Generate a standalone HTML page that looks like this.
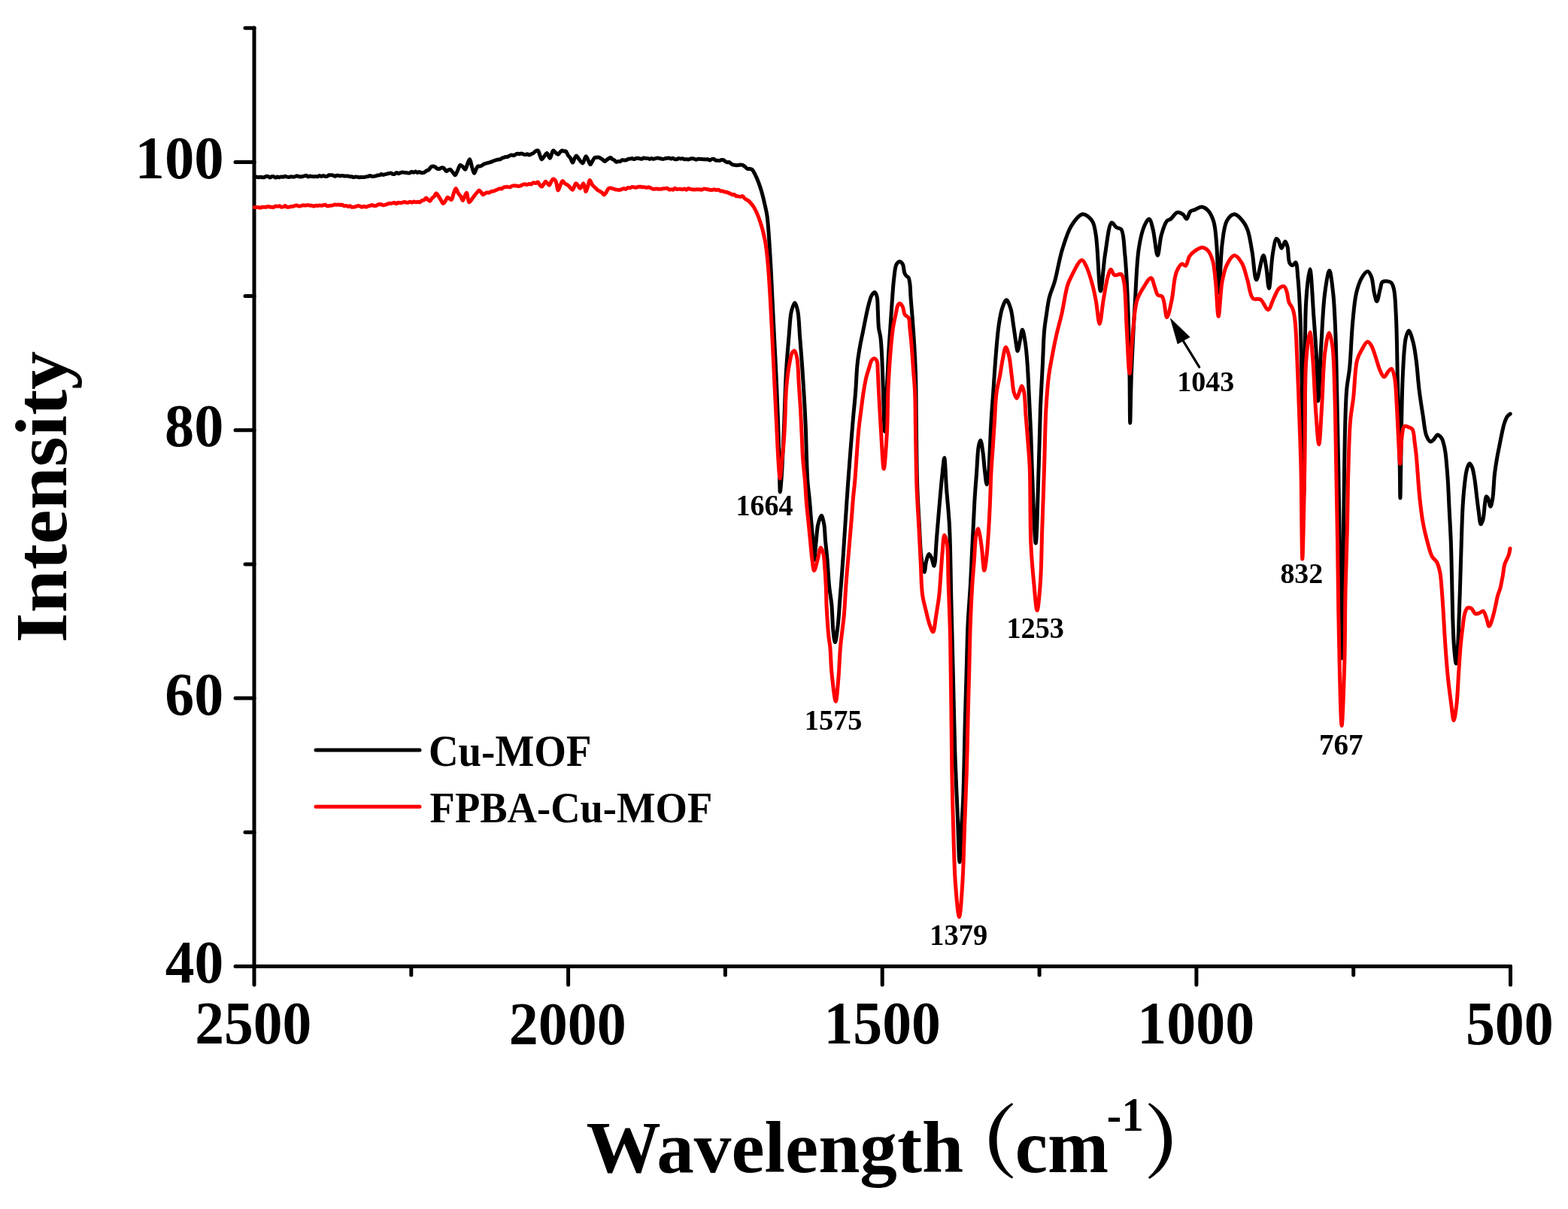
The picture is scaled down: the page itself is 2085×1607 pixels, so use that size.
<!DOCTYPE html><html><head><meta charset="utf-8"><title>FTIR spectra</title><style>html,body{margin:0;padding:0;background:#fff;overflow:hidden;}svg{display:block;}text{font-family:"Liberation Serif","Times New Roman",serif;font-weight:bold;fill:#000;}text.cjk{font-family:"Noto Serif CJK SC","Liberation Serif",serif;}</style></head><body>
<svg width="2085" height="1607" viewBox="0 0 2085 1607">
<rect width="2085" height="1607" fill="#fff"/>
<g stroke="#000" stroke-width="5" fill="none" stroke-linecap="round">
<path d="M338,37 V1284.5 H2008.5"/>
<path d="M313,215.4 H338"/>
<path d="M313,571.7 H338"/>
<path d="M313,928.1 H338"/>
<path d="M313,1284.5 H338"/>
<path d="M326,37.2 H338"/>
<path d="M326,393.6 H338"/>
<path d="M326,749.9 H338"/>
<path d="M326,1106.3 H338"/>
<path d="M338.0,1284.5 V1309.0"/>
<path d="M755.6,1284.5 V1309.0"/>
<path d="M1173.2,1284.5 V1309.0"/>
<path d="M1590.9,1284.5 V1309.0"/>
<path d="M2008.5,1284.5 V1309.0"/>
<path d="M546.8,1284.5 V1296.0"/>
<path d="M964.4,1284.5 V1296.0"/>
<path d="M1382.1,1284.5 V1296.0"/>
<path d="M1799.7,1284.5 V1296.0"/>
</g>
<path fill="none" stroke="#000" stroke-width="5.0" stroke-linejoin="round" stroke-linecap="round" d="M338.4,235.7 C338.4,235.7 340.1,235.1 341.0,235.1 C341.8,235.1 342.7,235.7 343.5,235.7 C344.4,235.7 345.2,235.3 346.1,235.3 C346.9,235.3 347.8,235.6 348.6,235.7 C349.5,235.8 350.3,235.9 351.2,235.7 C352.0,235.5 352.8,234.7 353.7,234.5 C354.5,234.3 355.4,234.2 356.3,234.4 C357.2,234.6 358.0,235.9 358.8,236.0 C359.7,236.0 360.5,235.0 361.4,234.7 C362.2,234.5 363.1,234.4 363.9,234.6 C364.8,234.9 365.6,236.1 366.5,236.1 C367.3,236.2 368.2,235.1 369.0,235.0 C369.9,235.0 370.7,235.7 371.6,235.7 C372.4,235.7 373.3,235.0 374.1,234.9 C375.0,234.8 375.8,235.3 376.7,235.2 C377.5,235.1 378.4,234.2 379.2,234.2 C380.1,234.2 380.9,234.9 381.8,235.1 C382.6,235.3 383.5,235.5 384.3,235.5 C385.2,235.4 386.0,234.8 386.9,234.8 C387.7,234.7 388.6,235.1 389.4,235.1 C390.3,235.2 391.2,235.2 392.0,234.9 C392.9,234.7 393.7,233.7 394.5,233.7 C395.4,233.6 396.2,234.3 397.1,234.5 C397.9,234.7 398.8,234.9 399.6,235.0 C400.5,235.0 401.3,234.7 402.1,234.6 C403.0,234.4 403.8,234.1 404.7,233.9 C405.5,233.7 406.4,233.2 407.2,233.3 C408.1,233.5 408.8,234.8 409.7,234.9 C410.5,235.0 411.4,234.2 412.2,234.1 C413.1,234.0 413.9,234.4 414.7,234.5 C415.6,234.6 416.4,234.8 417.3,234.8 C418.1,234.8 418.9,234.4 419.8,234.4 C420.6,234.4 421.5,234.9 422.3,234.7 C423.2,234.6 424.0,233.7 424.8,233.6 C425.7,233.6 426.5,234.4 427.3,234.4 C428.2,234.4 429.0,233.6 429.9,233.6 C430.7,233.6 431.5,234.4 432.4,234.5 C433.2,234.6 434.1,234.6 434.9,234.4 C435.8,234.1 436.5,233.0 437.4,232.7 C438.2,232.5 439.1,232.7 439.9,232.8 C440.8,232.8 441.6,232.6 442.5,232.9 C443.3,233.1 444.1,234.2 445.0,234.3 C445.8,234.4 446.6,233.5 447.5,233.3 C448.3,233.2 449.2,233.2 450.0,233.3 C450.9,233.4 451.7,233.9 452.5,233.9 C453.4,233.9 454.2,233.4 455.1,233.4 C455.9,233.4 456.7,233.9 457.6,234.0 C458.4,234.1 459.3,233.9 460.1,233.9 C460.9,233.9 461.8,233.9 462.6,234.0 C463.5,234.1 464.3,234.5 465.1,234.7 C466.0,234.8 466.8,234.7 467.7,234.8 C468.5,235.0 469.3,235.6 470.2,235.6 C471.0,235.7 471.8,235.1 472.7,235.0 C473.6,234.9 474.6,235.2 475.5,235.3 C476.4,235.4 477.4,235.7 478.3,235.7 C479.2,235.7 480.2,235.5 481.1,235.5 C482.0,235.5 483.0,235.7 483.9,235.6 C484.8,235.6 485.8,235.1 486.7,234.9 C487.6,234.7 488.6,234.7 489.5,234.5 C490.4,234.3 491.2,233.5 492.0,233.5 C492.9,233.5 493.7,234.4 494.5,234.5 C495.4,234.7 496.2,234.5 497.1,234.4 C497.9,234.3 498.8,234.2 499.6,233.9 C500.4,233.7 501.2,233.1 502.1,232.9 C502.9,232.8 503.8,233.1 504.6,232.9 C505.5,232.7 506.3,231.6 507.1,231.5 C508.0,231.5 508.8,232.4 509.7,232.4 C510.5,232.4 511.3,231.8 512.2,231.6 C513.0,231.4 513.9,231.3 514.7,231.1 C515.5,230.9 516.4,230.7 517.2,230.5 C518.0,230.3 518.9,229.8 519.7,229.9 C520.6,230.0 521.4,231.1 522.2,231.3 C523.0,231.5 523.9,231.7 524.7,231.4 C525.6,231.1 526.4,229.5 527.2,229.4 C528.1,229.3 528.9,230.6 529.8,230.7 C530.6,230.7 531.4,230.0 532.3,229.7 C533.1,229.5 533.9,229.1 534.8,229.0 C535.6,228.9 536.5,229.1 537.3,229.2 C538.1,229.2 539.0,229.3 539.8,229.4 C540.6,229.5 541.5,229.8 542.3,229.9 C543.2,230.0 544.0,230.2 544.8,230.0 C545.7,229.7 546.5,228.3 547.4,228.2 C548.2,228.2 549.0,229.3 549.9,229.3 C550.7,229.3 551.6,228.1 552.4,228.1 C553.2,228.1 554.1,229.3 554.9,229.4 C555.7,229.4 556.6,228.5 557.4,228.5 C558.3,228.5 559.1,229.3 560.0,229.5 C560.8,229.7 561.7,229.8 562.5,229.6 C563.3,229.5 564.2,229.1 565.0,228.6 C565.9,228.1 566.6,227.2 567.5,226.7 C568.3,226.3 569.3,226.4 570.0,225.8 C571.0,225.1 571.6,223.3 572.6,222.5 C573.4,221.8 574.2,221.1 575.1,221.0 C576.1,220.9 577.4,221.3 578.5,221.9 C579.6,222.4 580.7,224.0 581.8,224.4 C582.7,224.7 583.7,224.6 584.6,224.3 C585.6,224.1 586.4,223.0 587.4,222.9 C588.3,222.8 589.3,223.0 590.2,223.6 C591.4,224.4 592.5,227.7 593.6,227.8 C594.4,227.9 595.2,226.4 596.1,225.9 C596.9,225.6 597.8,225.1 598.6,225.3 C599.7,225.6 600.8,227.6 602.0,228.9 C603.1,230.1 604.3,232.9 605.3,232.8 C606.5,232.7 607.5,228.5 608.6,226.3 C609.8,224.1 610.6,219.8 612.0,219.4 C613.0,219.1 614.3,220.7 615.4,221.7 C616.5,222.7 617.7,225.5 618.7,225.3 C619.9,225.1 620.6,220.0 621.7,217.6 C622.6,215.5 623.7,211.7 624.6,211.8 C625.7,211.9 626.5,218.6 627.5,221.8 C628.5,224.7 629.5,230.2 630.5,230.3 C631.3,230.4 632.1,226.9 633.0,225.3 C633.8,223.8 634.4,221.6 635.5,221.0 C636.3,220.5 637.3,221.2 638.2,221.0 C639.1,220.8 640.1,220.4 641.0,219.9 C641.9,219.4 642.7,218.4 643.7,217.9 C644.5,217.5 645.5,217.4 646.4,217.2 C647.3,216.9 648.2,216.6 649.1,216.4 C650.0,216.1 650.9,215.9 651.8,215.7 C652.8,215.4 653.7,215.0 654.6,214.6 C655.5,214.3 656.4,213.8 657.3,213.5 C658.2,213.2 659.0,213.0 659.8,212.8 C660.7,212.6 661.5,212.2 662.4,212.1 C663.2,212.0 664.1,212.2 664.9,211.9 C665.8,211.6 666.6,210.7 667.5,210.2 C668.3,209.8 669.1,209.7 670.0,209.4 C670.9,209.1 671.8,208.7 672.6,208.5 C673.5,208.4 674.4,208.7 675.3,208.4 C676.2,208.1 677.0,207.1 677.9,206.7 C678.8,206.3 679.7,206.1 680.6,206.1 C681.5,206.1 682.4,206.9 683.2,206.7 C684.1,206.6 684.9,205.5 685.9,205.1 C686.7,204.7 687.6,204.4 688.5,204.3 C689.3,204.2 690.2,204.7 691.0,204.7 C691.9,204.6 692.7,203.8 693.5,203.9 C694.4,203.9 695.2,204.7 696.0,205.0 C696.9,205.3 697.7,205.6 698.6,205.6 C699.4,205.6 700.3,204.7 701.1,204.8 C701.9,204.8 702.7,206.0 703.6,206.0 C704.5,206.0 705.6,205.2 706.5,204.8 C707.5,204.3 708.5,203.9 709.5,203.3 C710.5,202.6 711.3,201.2 712.4,200.7 C713.3,200.2 714.5,199.7 715.3,200.1 C716.5,200.7 717.0,204.3 717.8,206.3 C718.7,208.2 719.4,211.8 720.4,211.9 C721.4,212.0 722.6,209.0 723.8,207.6 C724.9,206.2 726.0,203.4 727.1,203.5 C728.5,203.6 730.0,210.3 731.3,210.2 C732.8,210.1 733.9,200.5 735.5,200.1 C736.5,199.9 737.7,202.1 738.9,203.0 C739.9,203.8 741.2,205.3 742.2,205.2 C743.2,205.1 743.8,203.2 744.7,202.4 C745.5,201.5 746.3,200.3 747.2,200.1 C748.0,199.9 748.9,200.8 749.8,201.0 C750.6,201.1 751.5,200.5 752.3,201.0 C753.5,201.7 754.3,204.9 755.4,206.5 C756.3,207.9 757.5,208.7 758.4,210.1 C759.6,211.8 760.6,216.1 761.5,216.1 C762.4,216.1 763.1,212.2 764.0,210.6 C764.8,209.2 765.6,206.9 766.5,206.9 C767.4,206.9 768.4,209.3 769.3,210.6 C770.2,211.9 771.1,213.4 772.1,214.5 C773.0,215.5 774.0,217.1 774.9,216.9 C776.4,216.6 777.8,207.8 779.1,207.7 C780.1,207.6 781.1,210.9 782.0,212.7 C783.1,214.5 784.0,218.5 785.0,218.6 C785.9,218.6 787.0,215.5 788.0,213.9 C788.9,212.4 789.8,210.0 790.9,209.4 C791.7,209.0 792.6,209.4 793.4,209.3 C794.2,209.3 795.1,208.8 795.9,208.9 C796.8,209.0 797.8,209.8 798.7,210.4 C799.7,210.9 800.6,211.6 801.5,212.3 C802.4,213.0 803.4,214.4 804.3,214.4 C805.2,214.4 806.0,213.0 806.8,212.4 C807.7,211.8 808.5,211.3 809.4,210.8 C810.2,210.3 811.1,209.3 811.9,209.4 C812.8,209.5 813.5,211.0 814.4,211.6 C815.2,212.1 816.1,212.4 816.9,212.9 C817.8,213.6 818.5,215.1 819.4,215.3 C820.2,215.5 821.2,214.6 822.0,214.5 C822.9,214.4 823.9,214.9 824.7,214.6 C825.6,214.4 826.4,212.8 827.3,212.6 C828.2,212.3 829.1,213.0 830.0,213.0 C830.8,213.1 831.8,213.0 832.6,212.8 C833.5,212.5 834.3,211.6 835.3,211.3 C836.1,211.1 837.0,211.2 837.9,211.1 C838.8,211.0 839.6,210.4 840.5,210.5 C841.3,210.6 842.2,211.6 843.1,211.6 C843.9,211.6 844.8,210.7 845.6,210.5 C846.5,210.3 847.4,210.3 848.2,210.3 C849.1,210.4 849.9,210.6 850.8,210.8 C851.6,210.9 852.5,211.4 853.4,211.3 C854.2,211.2 855.1,210.2 855.9,210.0 C856.8,209.9 857.7,210.4 858.5,210.4 C859.4,210.5 860.2,210.3 861.1,210.4 C862.0,210.6 862.8,211.4 863.7,211.4 C864.5,211.4 865.4,210.6 866.2,210.6 C867.1,210.5 868.0,211.3 868.8,211.3 C869.7,211.4 870.5,210.8 871.4,210.6 C872.3,210.4 873.1,210.0 874.0,210.0 C874.8,209.9 875.7,210.2 876.6,210.4 C877.4,210.5 878.3,210.8 879.2,211.0 C880.0,211.2 880.9,211.6 881.7,211.5 C882.6,211.5 883.5,210.9 884.3,210.7 C885.2,210.5 886.0,210.4 886.9,210.3 C887.8,210.2 888.6,210.0 889.5,210.1 C890.4,210.2 891.2,210.9 892.1,211.0 C892.9,211.0 893.8,210.2 894.7,210.3 C895.5,210.4 896.4,211.4 897.2,211.6 C898.1,211.8 899.0,211.9 899.8,211.7 C900.7,211.5 901.5,210.5 902.4,210.4 C903.3,210.3 904.1,211.1 905.0,211.1 C905.9,211.1 906.7,210.6 907.6,210.7 C908.5,210.8 909.3,211.7 910.2,211.8 C911.0,212.0 911.9,211.5 912.8,211.6 C913.6,211.6 914.5,212.0 915.3,212.0 C916.2,211.9 917.1,211.3 917.9,211.1 C918.8,210.9 919.6,210.7 920.5,210.7 C921.4,210.7 922.2,210.9 923.1,211.1 C924.0,211.4 924.8,212.2 925.7,212.2 C926.5,212.2 927.4,211.3 928.3,211.2 C929.1,211.1 930.0,211.3 930.8,211.4 C931.7,211.5 932.6,211.6 933.4,211.6 C934.3,211.7 935.2,211.6 936.0,211.7 C936.9,211.7 937.7,211.9 938.6,211.9 C939.5,211.9 940.4,211.6 941.2,211.8 C942.1,212.0 943.0,213.0 943.8,212.9 C944.7,212.9 945.5,211.8 946.4,211.5 C947.3,211.2 948.2,211.0 949.0,211.3 C950.0,211.5 950.7,212.9 951.7,213.2 C952.5,213.5 953.4,213.1 954.3,213.2 C955.1,213.2 956.0,213.6 956.9,213.5 C957.8,213.4 958.6,212.6 959.5,212.5 C960.3,212.4 961.3,212.4 962.1,212.7 C963.0,213.1 963.7,214.2 964.6,214.7 C965.4,215.2 966.3,215.7 967.1,215.8 C968.0,215.9 968.9,215.3 969.7,215.5 C970.6,215.8 971.3,217.1 972.2,217.7 C973.0,218.2 973.8,218.7 974.7,219.0 C975.5,219.2 976.4,219.3 977.2,219.4 C978.0,219.5 978.9,219.7 979.7,219.7 C980.6,219.7 981.4,219.6 982.2,219.4 C983.1,219.3 983.9,219.0 984.8,219.0 C985.6,219.0 986.4,219.1 987.3,219.4 C988.4,219.8 989.6,220.8 990.6,221.6 C991.8,222.5 992.8,224.1 994.0,224.5 C995.0,224.8 996.0,224.2 997.0,224.4 C997.9,224.5 998.9,224.5 999.9,225.3 C1001.8,226.8 1003.8,231.4 1005.7,235.4 C1008.1,240.6 1010.6,247.7 1012.5,253.9 C1014.3,259.9 1015.7,266.2 1017.0,272.0 C1018.2,277.3 1019.2,280.7 1020.1,287.4 C1021.8,300.0 1023.1,323.9 1024.2,342.1 C1025.4,360.4 1026.1,378.6 1027.0,396.9 C1027.9,415.1 1028.8,433.4 1029.7,451.6 C1030.6,469.9 1031.6,488.1 1032.4,506.4 C1033.2,524.6 1033.9,541.8 1034.6,561.1 C1035.3,582.6 1036.0,612.5 1036.5,629.6 C1036.8,639.8 1036.8,654.0 1037.3,654.0 C1037.8,654.0 1038.9,639.0 1039.5,630.0 C1040.3,618.4 1040.9,602.4 1041.5,590.0 C1042.0,579.3 1042.4,570.3 1042.8,560.0 C1043.2,548.9 1043.5,537.0 1044.0,525.6 C1044.4,514.3 1044.8,504.0 1045.5,492.0 C1046.4,478.1 1047.8,461.1 1049.0,447.2 C1050.1,435.2 1050.4,421.7 1052.4,413.6 C1053.6,408.8 1055.5,402.4 1056.9,402.4 C1058.3,402.4 1059.8,408.8 1060.8,413.6 C1062.5,421.7 1062.6,435.2 1063.6,447.2 C1064.7,461.1 1066.0,477.1 1067.0,492.0 C1068.0,506.9 1069.0,523.0 1069.8,536.8 C1070.5,548.7 1070.9,558.4 1071.4,570.0 C1071.9,582.6 1072.1,597.3 1072.6,609.6 C1073.0,620.4 1073.2,630.3 1073.9,640.0 C1074.6,649.0 1075.8,657.4 1076.6,666.1 C1077.4,674.8 1078.0,683.6 1078.7,692.3 C1079.4,701.0 1080.2,709.7 1080.9,718.4 C1081.5,727.1 1081.9,744.5 1082.6,744.5 C1083.3,744.5 1084.4,726.7 1085.3,718.4 C1086.1,710.8 1086.4,702.6 1087.9,696.6 C1089.0,692.1 1090.9,685.3 1092.2,685.3 C1093.5,685.3 1094.8,692.2 1095.7,696.6 C1096.9,702.6 1096.8,710.8 1097.5,718.4 C1098.3,726.7 1099.3,735.1 1100.1,744.5 C1101.0,755.4 1101.6,769.3 1102.7,780.0 C1103.6,788.9 1105.1,795.5 1105.9,804.3 C1106.9,814.7 1106.9,829.4 1107.9,838.5 C1108.6,844.6 1109.5,853.6 1110.4,853.6 C1111.5,853.6 1113.1,839.8 1114.1,831.7 C1115.4,821.6 1115.9,808.8 1116.8,797.4 C1117.7,786.0 1118.6,775.1 1119.5,763.2 C1120.5,750.1 1121.4,735.8 1122.3,722.1 C1123.2,708.4 1124.1,694.8 1125.0,681.1 C1125.9,667.4 1126.6,655.9 1127.8,640.0 C1129.4,617.9 1132.1,583.0 1134.0,561.0 C1135.3,545.1 1136.7,533.3 1137.7,520.0 C1138.7,507.5 1138.9,494.5 1140.1,483.7 C1141.0,474.9 1142.3,467.3 1143.6,460.0 C1144.7,453.7 1145.9,448.6 1147.2,442.3 C1148.7,435.0 1150.4,425.7 1151.9,418.7 C1153.1,413.0 1154.2,407.9 1155.5,403.3 C1156.6,399.4 1157.4,395.3 1159.0,392.7 C1160.2,390.8 1162.0,388.3 1163.2,388.5 C1164.5,388.7 1165.5,392.2 1166.2,395.0 C1167.3,399.4 1166.9,406.4 1167.3,412.8 C1167.7,420.1 1167.7,429.9 1168.5,436.4 C1169.1,441.0 1170.2,443.6 1170.8,448.2 C1171.7,454.7 1172.1,462.6 1172.6,471.9 C1173.3,485.1 1173.8,503.5 1174.4,520.0 C1175.1,537.4 1175.7,573.5 1176.5,573.5 C1177.3,573.5 1178.2,537.4 1179.1,520.0 C1179.9,503.5 1180.7,486.7 1181.5,471.9 C1182.2,459.2 1183.0,448.2 1183.8,436.4 C1184.6,424.6 1185.4,412.2 1186.2,400.9 C1187.0,390.6 1187.5,380.3 1188.6,371.4 C1189.5,364.0 1189.9,355.1 1192.1,351.3 C1193.2,349.3 1194.9,347.7 1196.3,347.7 C1197.7,347.7 1199.4,349.5 1200.4,351.3 C1201.9,353.9 1201.7,360.4 1202.8,363.1 C1203.5,364.7 1204.2,365.7 1205.1,366.7 C1206.0,367.6 1207.3,367.8 1208.1,369.0 C1209.2,370.8 1209.4,374.0 1209.9,377.3 C1210.6,382.1 1210.5,388.3 1211.0,395.0 C1211.6,403.6 1212.6,414.3 1213.4,424.6 C1214.2,435.9 1215.1,448.2 1215.8,460.0 C1216.5,471.8 1217.1,484.8 1217.5,495.5 C1217.8,504.4 1217.9,510.3 1218.0,520.0 C1218.2,534.3 1218.2,553.8 1218.5,573.0 C1218.8,595.8 1219.0,625.3 1219.8,648.0 C1220.5,666.9 1221.6,683.8 1222.5,700.0 C1223.3,714.2 1223.6,728.9 1225.0,740.0 C1226.0,748.0 1227.9,760.5 1229.1,760.5 C1230.1,760.5 1230.6,749.7 1231.8,745.4 C1232.7,742.0 1233.9,736.7 1235.2,736.5 C1236.2,736.4 1237.6,739.3 1238.6,741.3 C1240.0,744.1 1241.1,752.4 1242.1,752.3 C1243.8,752.1 1244.4,728.0 1245.5,715.3 C1246.7,702.0 1247.7,688.1 1248.9,674.2 C1250.2,659.7 1251.7,642.1 1253.0,630.0 C1253.9,621.6 1254.9,608.6 1255.7,608.6 C1256.8,608.6 1257.5,635.6 1258.6,650.0 C1259.8,665.8 1261.5,680.2 1262.5,699.6 C1263.9,727.0 1264.1,765.8 1264.9,799.0 C1265.7,832.2 1266.6,865.5 1267.4,898.7 C1268.2,931.8 1268.8,966.4 1269.8,998.0 C1270.7,1026.8 1272.1,1054.8 1273.2,1080.7 C1274.2,1103.8 1275.0,1146.0 1276.0,1146.0 C1276.8,1146.0 1277.7,1114.6 1278.5,1100.0 C1279.2,1086.7 1280.0,1078.0 1280.7,1062.0 C1281.8,1034.5 1282.6,983.0 1283.5,950.0 C1284.2,923.9 1284.9,901.4 1285.5,880.0 C1286.0,861.9 1286.2,846.8 1287.0,830.0 C1287.8,812.9 1289.3,795.5 1290.3,778.4 C1291.3,761.5 1292.0,743.1 1292.8,728.0 C1293.4,715.7 1293.9,705.6 1294.5,694.4 C1295.1,683.2 1295.5,672.0 1296.2,660.8 C1296.9,649.6 1297.9,638.4 1298.7,627.2 C1299.5,616.0 1299.8,601.0 1301.2,593.6 C1301.9,589.8 1303.0,585.2 1303.8,585.2 C1305.0,585.3 1306.2,595.8 1307.1,602.0 C1308.2,609.5 1308.6,619.7 1309.6,627.2 C1310.4,633.4 1311.3,644.0 1312.2,644.0 C1313.0,644.0 1314.0,633.8 1314.7,627.2 C1315.6,617.9 1315.8,604.8 1316.4,593.6 C1316.9,582.4 1317.3,571.5 1318.0,560.0 C1318.7,547.7 1319.7,535.6 1320.7,521.9 C1321.8,505.8 1323.0,485.6 1324.4,469.6 C1325.5,456.1 1326.5,443.1 1328.1,432.3 C1329.4,423.9 1330.5,416.0 1332.6,409.9 C1334.2,405.4 1336.4,398.7 1338.3,398.7 C1340.2,398.7 1342.3,405.4 1343.8,409.9 C1345.8,416.0 1346.4,424.6 1347.6,432.3 C1348.9,440.5 1350.2,451.4 1351.3,457.7 C1351.9,461.4 1352.4,466.6 1353.1,466.6 C1354.0,466.6 1355.4,456.5 1356.5,451.7 C1357.5,447.1 1358.4,438.3 1359.5,438.3 C1360.7,438.3 1362.2,448.4 1363.2,454.7 C1364.6,463.1 1365.4,473.6 1366.2,484.6 C1367.2,498.0 1367.7,514.5 1368.5,529.4 C1369.2,544.3 1370.1,559.2 1370.7,574.2 C1371.3,589.4 1371.5,601.7 1372.2,620.0 C1373.3,647.3 1375.7,722.0 1377.2,722.0 C1378.7,722.0 1380.1,651.5 1381.2,620.0 C1382.1,592.9 1382.5,568.0 1383.4,544.3 C1384.2,523.2 1385.5,503.1 1386.4,484.6 C1387.2,468.6 1387.5,452.2 1388.6,439.8 C1389.4,431.0 1390.5,424.8 1391.6,417.3 C1392.7,409.8 1393.6,402.1 1395.4,394.9 C1397.2,387.8 1400.1,382.5 1402.4,374.4 C1405.7,362.9 1408.4,345.1 1412.4,332.1 C1416.0,320.5 1419.4,308.1 1424.8,299.8 C1429.0,293.3 1434.8,285.2 1439.7,284.8 C1443.9,284.4 1449.3,289.4 1452.2,293.6 C1455.5,298.3 1455.7,303.8 1457.2,312.2 C1460.1,328.7 1461.1,386.9 1463.4,386.9 C1465.3,386.9 1467.0,352.9 1469.6,337.1 C1472.0,322.7 1474.3,297.2 1478.3,296.0 C1480.1,295.5 1482.3,300.8 1484.5,302.3 C1486.5,303.6 1489.1,302.7 1490.8,304.8 C1494.5,309.4 1494.4,324.6 1495.7,337.1 C1497.5,354.4 1498.5,376.1 1499.5,399.3 C1500.8,428.6 1501.5,469.4 1502.0,498.9 C1502.4,522.4 1502.3,562.3 1502.7,562.3 C1503.1,562.3 1503.5,522.4 1504.4,498.9 C1505.5,469.4 1507.6,429.5 1509.4,399.3 C1510.9,374.0 1511.5,347.9 1514.4,329.6 C1516.3,317.5 1518.8,306.6 1521.9,299.8 C1523.7,295.8 1526.3,290.9 1528.1,291.1 C1530.2,291.4 1531.6,299.1 1533.1,304.8 C1535.5,313.7 1537.3,339.6 1539.3,339.6 C1541.0,339.6 1542.0,320.3 1544.3,312.2 C1546.3,305.3 1548.8,296.8 1551.7,293.6 C1553.2,291.9 1554.9,292.4 1556.7,291.1 C1559.3,289.2 1562.4,283.1 1565.4,282.4 C1567.8,281.8 1570.8,283.4 1572.9,284.8 C1575.0,286.3 1576.4,291.3 1577.9,291.1 C1579.7,290.9 1580.6,283.2 1582.8,281.1 C1584.5,279.5 1586.8,279.5 1589.1,278.6 C1591.8,277.5 1594.9,274.7 1597.8,274.9 C1600.7,275.1 1604.0,277.3 1606.5,279.9 C1609.7,283.3 1612.1,288.8 1613.9,294.8 C1616.3,302.9 1616.7,312.8 1617.7,324.7 C1619.2,342.1 1619.7,389.4 1620.9,389.4 C1622.1,389.4 1622.8,342.3 1625.1,324.7 C1626.7,312.4 1627.5,300.4 1631.4,293.6 C1633.9,289.2 1637.9,284.9 1641.3,284.8 C1644.6,284.7 1648.5,289.1 1651.3,292.3 C1654.4,295.7 1656.6,299.5 1658.7,304.8 C1661.7,312.4 1663.1,324.1 1665.0,334.6 C1667.1,346.3 1668.1,371.8 1670.7,372.0 C1673.1,372.2 1677.6,339.6 1679.9,339.6 C1681.5,339.6 1682.5,348.7 1683.6,354.5 C1685.1,362.5 1686.1,383.2 1687.4,383.2 C1689.0,383.2 1690.3,349.2 1692.4,337.1 C1693.8,329.0 1695.4,317.7 1697.3,317.2 C1698.1,317.0 1699.1,318.6 1700.0,319.9 C1701.4,322.1 1702.5,329.8 1704.0,329.9 C1705.5,330.0 1707.6,320.8 1709.0,320.9 C1710.2,321.0 1711.2,324.8 1712.0,327.9 C1713.4,333.1 1712.7,346.0 1714.9,349.8 C1716.0,351.6 1717.6,352.9 1718.9,352.8 C1720.3,352.7 1721.8,348.4 1722.9,348.8 C1724.9,349.5 1725.0,361.2 1725.9,369.7 C1727.2,382.7 1728.1,401.0 1728.9,419.5 C1729.9,442.9 1730.4,474.5 1730.9,499.1 C1731.3,520.5 1731.6,537.5 1731.9,558.9 C1732.2,583.9 1732.0,622.1 1732.5,640.0 C1732.8,648.9 1733.2,660.0 1733.5,660.0 C1734.2,660.0 1734.5,597.3 1735.0,560.0 C1735.6,512.8 1734.4,435.7 1736.8,399.6 C1738.0,381.1 1740.3,357.7 1741.8,357.7 C1743.7,357.7 1745.3,399.1 1746.8,419.5 C1748.3,439.6 1749.8,459.8 1750.8,479.2 C1751.8,497.6 1751.9,533.0 1752.8,533.0 C1753.8,533.0 1755.3,483.5 1756.8,459.3 C1758.3,435.7 1759.2,407.9 1761.7,389.6 C1763.3,377.5 1765.9,359.7 1767.7,359.7 C1769.5,359.7 1771.4,378.3 1772.7,389.6 C1774.3,404.1 1774.9,420.9 1775.7,439.4 C1776.7,462.8 1777.1,490.9 1777.7,519.0 C1778.4,550.7 1779.0,583.6 1779.7,620.0 C1780.5,662.9 1781.2,715.6 1782.0,760.0 C1782.7,800.2 1783.3,875.0 1784.0,875.0 C1784.7,875.0 1785.4,800.2 1786.0,760.0 C1786.6,715.6 1786.7,662.9 1787.6,620.0 C1788.3,583.6 1788.7,542.7 1790.6,519.0 C1791.7,506.1 1793.4,500.9 1794.6,489.2 C1796.3,472.7 1796.9,447.3 1798.6,429.4 C1800.0,414.8 1800.9,400.5 1803.5,389.6 C1805.4,381.7 1807.5,374.8 1810.5,369.7 C1812.8,365.8 1816.2,360.6 1818.5,360.7 C1820.4,360.8 1822.2,364.5 1823.5,367.7 C1825.7,372.8 1825.9,383.6 1827.4,389.6 C1828.5,393.9 1829.6,400.6 1830.8,400.6 C1832.3,400.6 1834.0,388.3 1835.4,383.6 C1836.5,380.1 1836.3,376.1 1838.4,374.7 C1840.7,373.1 1846.8,373.6 1849.3,375.3 C1851.6,376.8 1852.2,379.7 1853.3,383.6 C1855.4,391.3 1855.5,405.2 1856.3,419.5 C1857.5,440.8 1857.6,469.8 1858.3,499.1 C1859.2,535.2 1860.7,590.1 1861.3,620.0 C1861.6,637.6 1861.6,661.9 1861.9,661.9 C1862.5,661.9 1863.3,537.7 1865.3,499.1 C1866.4,477.7 1867.0,459.6 1869.3,449.4 C1870.4,444.7 1871.8,439.4 1873.2,439.4 C1875.0,439.4 1877.6,449.4 1879.2,455.3 C1881.1,462.4 1882.0,470.2 1883.2,479.2 C1884.7,490.8 1885.6,506.3 1887.2,519.0 C1888.7,530.8 1890.5,542.3 1892.2,552.9 C1893.7,562.2 1894.3,573.2 1896.8,579.2 C1898.3,582.8 1900.5,586.7 1902.4,587.0 C1903.9,587.2 1905.5,585.1 1906.9,583.7 C1908.5,582.2 1909.7,578.3 1911.4,578.1 C1913.1,577.9 1915.6,580.7 1917.0,582.6 C1918.5,584.7 1919.0,587.5 1919.8,590.4 C1920.7,593.8 1921.4,597.5 1922.0,601.6 C1922.7,606.6 1923.2,612.4 1923.7,618.4 C1924.3,625.3 1924.9,632.6 1925.4,640.8 C1926.0,650.9 1926.4,662.3 1927.0,674.4 C1927.7,688.4 1928.7,704.4 1929.3,720.0 C1929.9,736.3 1930.2,753.3 1930.6,770.0 C1931.0,786.7 1931.2,804.3 1931.7,820.0 C1932.2,834.1 1932.6,848.7 1933.5,860.0 C1934.2,868.4 1935.4,882.0 1936.2,882.0 C1937.0,882.0 1937.9,868.4 1938.5,860.0 C1939.3,848.7 1939.6,834.1 1940.1,820.0 C1940.7,804.3 1941.3,786.7 1941.8,770.0 C1942.3,753.3 1942.8,736.3 1943.3,720.0 C1943.8,704.4 1944.2,687.7 1945.0,674.4 C1945.6,663.9 1946.2,655.2 1947.2,646.4 C1948.1,638.5 1948.9,629.5 1950.5,624.0 C1951.5,620.6 1952.6,616.3 1953.9,616.1 C1954.9,616.0 1956.3,618.5 1957.3,620.6 C1958.9,624.0 1959.7,629.8 1960.6,635.2 C1961.8,641.8 1962.5,650.1 1963.4,657.6 C1964.3,665.1 1965.2,673.1 1966.2,680.0 C1967.1,686.0 1967.7,696.6 1969.0,696.8 C1969.8,696.9 1971.0,693.8 1971.8,691.2 C1973.3,686.3 1973.7,674.6 1974.6,668.8 C1975.2,665.1 1975.3,660.1 1976.3,659.8 C1976.9,659.6 1977.8,660.9 1978.5,662.1 C1979.8,664.3 1980.8,673.3 1981.9,673.3 C1982.9,673.3 1983.9,667.6 1984.7,663.2 C1986.1,655.3 1986.3,639.7 1987.5,629.6 C1988.5,621.4 1989.7,614.1 1990.9,607.2 C1991.9,601.2 1993.1,596.0 1994.2,590.4 C1995.3,584.8 1996.5,578.7 1997.6,573.6 C1998.6,569.4 1999.3,565.5 2000.5,562.0 C2001.6,558.9 2002.7,555.5 2004.3,553.4 C2005.4,551.9 2008.2,550.1 2008.2,550.1"/>
<path fill="none" stroke="#f00" stroke-width="5.0" stroke-linejoin="round" stroke-linecap="round" d="M338.4,275.6 C338.4,275.6 340.1,275.4 341.0,275.4 C341.8,275.4 342.7,275.4 343.5,275.6 C344.4,275.7 345.2,276.3 346.1,276.2 C346.9,276.2 347.7,275.4 348.6,275.2 C349.4,275.1 350.3,275.2 351.2,275.2 C352.0,275.3 352.9,275.5 353.7,275.3 C354.6,275.2 355.4,274.5 356.3,274.5 C357.1,274.4 358.0,274.9 358.8,275.0 C359.7,275.2 360.5,275.1 361.4,275.2 C362.2,275.3 363.1,275.6 363.9,275.4 C364.8,275.3 365.6,274.1 366.5,274.0 C367.3,273.8 368.2,274.3 369.0,274.3 C369.9,274.3 370.7,273.7 371.6,273.8 C372.5,274.0 373.3,275.0 374.1,275.2 C375.0,275.3 375.9,275.1 376.7,274.9 C377.6,274.6 378.4,273.5 379.2,273.5 C380.1,273.6 380.9,275.0 381.8,275.3 C382.6,275.5 383.5,275.3 384.3,275.2 C385.2,275.1 386.0,274.6 386.9,274.5 C387.7,274.4 388.6,274.5 389.4,274.4 C390.3,274.2 391.1,273.6 392.0,273.4 C392.8,273.1 393.7,272.9 394.5,273.0 C395.4,273.1 396.2,273.8 397.1,273.9 C397.9,274.0 398.8,274.0 399.6,273.9 C400.5,273.7 401.3,273.0 402.1,272.9 C403.0,272.7 403.8,273.0 404.7,273.0 C405.5,273.1 406.3,273.1 407.2,273.1 C408.0,273.0 408.9,272.5 409.7,272.6 C410.5,272.6 411.4,273.2 412.2,273.3 C413.1,273.5 413.9,273.1 414.7,273.2 C415.6,273.3 416.4,273.9 417.3,273.9 C418.1,273.9 418.9,273.3 419.8,273.2 C420.6,273.1 421.5,273.4 422.3,273.4 C423.1,273.3 424.0,273.0 424.8,273.0 C425.7,273.0 426.5,273.3 427.3,273.3 C428.2,273.2 429.0,272.9 429.9,272.8 C430.7,272.6 431.6,272.2 432.4,272.3 C433.2,272.5 434.0,273.5 434.9,273.7 C435.7,273.9 436.6,273.7 437.4,273.6 C438.3,273.5 439.1,273.3 439.9,273.2 C440.8,273.1 441.6,273.1 442.5,272.9 C443.3,272.7 444.1,272.1 445.0,272.0 C445.8,271.9 446.7,272.3 447.5,272.3 C448.3,272.3 449.2,272.0 450.0,272.0 C450.9,272.0 451.7,272.3 452.5,272.4 C453.4,272.4 454.3,272.0 455.1,272.2 C455.9,272.4 456.7,273.7 457.6,273.8 C458.4,274.0 459.3,273.3 460.1,273.4 C461.0,273.5 461.8,274.4 462.6,274.5 C463.4,274.6 464.3,273.7 465.1,273.8 C466.0,273.9 466.8,275.0 467.7,275.2 C468.5,275.4 469.3,275.3 470.2,275.2 C471.0,275.2 471.9,275.0 472.7,274.8 C473.6,274.5 474.5,273.8 475.5,273.7 C476.4,273.5 477.4,273.7 478.3,274.0 C479.3,274.2 480.2,275.2 481.1,275.2 C482.0,275.3 483.0,274.2 483.9,274.2 C484.8,274.2 485.8,275.1 486.7,275.1 C487.6,275.1 488.6,274.3 489.5,274.0 C490.4,273.8 491.2,273.8 492.0,273.5 C492.9,273.3 493.7,272.6 494.5,272.6 C495.4,272.6 496.2,273.3 497.1,273.5 C497.9,273.6 498.8,273.7 499.6,273.5 C500.4,273.3 501.2,272.6 502.1,272.2 C502.9,271.9 503.8,271.7 504.6,271.6 C505.5,271.6 506.3,271.6 507.1,271.8 C508.0,272.0 508.8,272.8 509.7,272.8 C510.5,272.9 511.3,272.4 512.2,272.2 C513.0,271.9 513.9,271.7 514.7,271.4 C515.5,271.1 516.4,270.6 517.2,270.4 C518.0,270.2 518.9,270.5 519.7,270.4 C520.6,270.3 521.4,270.0 522.2,269.9 C523.1,269.7 523.9,269.4 524.7,269.5 C525.6,269.7 526.4,270.8 527.2,270.7 C528.1,270.7 528.9,269.4 529.8,269.3 C530.6,269.1 531.4,269.8 532.3,269.8 C533.1,269.8 533.9,269.5 534.8,269.3 C535.6,269.1 536.4,268.6 537.3,268.5 C538.1,268.5 539.0,268.8 539.8,268.9 C540.7,269.0 541.6,269.5 542.4,269.4 C543.3,269.2 544.2,268.2 545.1,268.2 C546.0,268.1 546.8,269.2 547.7,269.2 C548.6,269.2 549.5,268.2 550.4,268.1 C551.2,268.1 552.1,268.7 553.0,268.7 C553.9,268.8 554.8,268.3 555.7,268.3 C556.5,268.4 557.5,269.1 558.3,268.9 C559.3,268.6 560.1,267.0 561.1,266.5 C562.0,266.0 563.0,266.4 563.9,265.9 C564.9,265.3 565.8,263.0 566.7,263.0 C567.6,263.0 568.3,265.0 569.2,265.7 C570.0,266.3 570.9,267.4 571.7,267.2 C572.7,267.0 573.5,264.5 574.5,263.4 C575.4,262.5 576.4,262.2 577.3,261.2 C578.3,260.1 579.1,257.1 580.1,257.1 C581.1,257.1 582.2,259.6 583.2,261.0 C584.3,262.5 585.3,264.3 586.3,265.9 C587.3,267.5 588.3,270.5 589.4,270.6 C590.3,270.7 591.4,268.4 592.3,267.1 C593.3,265.6 594.1,262.4 595.2,262.2 C596.0,262.0 596.9,263.6 597.8,264.1 C598.6,264.7 599.6,265.8 600.3,265.5 C601.6,265.0 602.2,259.8 603.2,257.2 C604.1,254.8 605.1,250.4 606.1,250.4 C607.1,250.4 608.1,254.9 609.2,256.7 C610.2,258.2 611.3,259.0 612.3,260.5 C613.4,262.2 614.4,266.4 615.4,266.4 C616.3,266.4 617.0,262.6 617.9,260.9 C618.7,259.3 619.6,256.2 620.4,256.3 C621.6,256.4 622.2,268.5 623.8,268.9 C624.8,269.1 626.1,266.6 627.1,265.2 C628.3,263.8 629.4,262.0 630.5,260.5 C631.6,259.1 632.7,257.7 633.9,256.4 C634.9,255.2 636.2,253.0 637.2,253.0 C638.1,253.0 638.9,254.6 639.7,255.5 C640.6,256.5 641.3,258.6 642.2,258.8 C643.0,258.9 644.0,257.4 645.0,257.0 C645.9,256.5 646.9,256.2 647.8,256.0 C648.7,255.9 649.7,256.3 650.6,256.1 C651.6,255.8 652.4,254.7 653.4,254.4 C654.3,254.1 655.3,254.4 656.2,254.2 C657.2,253.9 658.1,253.4 659.0,253.0 C659.9,252.6 660.8,252.1 661.8,251.7 C662.7,251.3 663.6,251.0 664.5,250.8 C665.4,250.7 666.4,251.1 667.2,250.8 C668.2,250.4 669.0,249.2 670.0,248.8 C670.9,248.5 671.9,248.6 672.8,248.5 C673.7,248.4 674.7,248.3 675.6,248.4 C676.5,248.4 677.5,248.9 678.4,248.7 C679.4,248.5 680.2,247.4 681.2,247.0 C682.1,246.7 683.1,246.7 684.0,246.7 C684.9,246.7 685.9,247.0 686.8,247.1 C687.7,247.2 688.7,247.5 689.6,247.5 C690.5,247.5 691.5,247.2 692.4,246.9 C693.4,246.5 694.2,245.7 695.2,245.3 C696.1,245.0 697.1,244.8 698.0,244.8 C698.9,244.8 699.9,245.5 700.8,245.5 C701.7,245.5 702.6,244.7 703.6,244.6 C704.6,244.5 705.6,245.1 706.5,244.9 C707.6,244.6 708.4,242.9 709.5,242.7 C710.4,242.6 711.4,243.7 712.4,243.6 C713.4,243.5 714.4,241.9 715.3,242.1 C716.3,242.4 716.9,244.8 717.8,245.8 C718.6,246.7 719.6,248.1 720.4,248.0 C721.3,247.9 722.1,245.9 722.9,244.9 C723.8,243.7 724.5,241.4 725.4,241.3 C726.2,241.2 727.1,242.8 727.9,243.6 C728.7,244.5 729.6,246.4 730.4,246.3 C731.4,246.2 732.0,242.8 733.0,241.3 C733.7,240.0 734.5,238.0 735.5,237.9 C736.5,237.8 737.9,239.0 738.8,240.4 C740.5,242.9 741.0,252.9 742.2,253.0 C743.1,253.1 744.1,248.0 745.2,245.8 C746.1,243.8 747.0,240.5 748.1,240.4 C749.0,240.3 749.9,243.0 751.0,243.9 C751.9,244.6 753.0,244.9 753.9,245.5 C754.8,246.0 755.6,246.5 756.4,247.2 C757.3,248.1 758.1,249.5 759.0,250.4 C759.8,251.1 760.7,252.4 761.5,252.2 C762.9,251.8 764.2,244.0 765.7,243.8 C766.7,243.6 767.7,245.6 768.7,246.7 C769.7,247.8 770.6,250.5 771.6,250.5 C772.9,250.4 774.6,243.6 775.8,243.8 C777.2,244.0 778.0,254.7 779.1,254.7 C780.0,254.7 780.8,250.2 781.7,247.8 C782.5,245.2 783.1,239.7 784.2,239.6 C785.1,239.5 786.3,243.8 787.5,245.5 C788.5,246.9 789.7,247.9 790.9,249.0 C792.0,250.1 793.1,251.3 794.2,252.2 C795.2,253.0 796.3,253.4 797.3,254.0 C798.3,254.7 799.4,255.2 800.4,256.0 C801.5,256.9 802.5,259.0 803.5,258.9 C804.5,258.8 805.5,256.5 806.4,255.1 C807.4,253.7 808.1,251.3 809.3,250.5 C810.2,249.9 811.3,250.0 812.2,250.1 C813.2,250.1 814.2,250.5 815.2,250.8 C816.2,251.1 817.2,251.7 818.1,251.9 C819.1,252.1 820.1,252.1 821.1,252.2 C822.0,252.3 823.0,252.6 823.9,252.5 C824.8,252.4 825.8,251.9 826.7,251.6 C827.6,251.3 828.6,250.5 829.5,250.5 C830.4,250.5 831.4,251.5 832.3,251.4 C833.3,251.2 834.1,249.8 835.1,249.5 C836.0,249.3 837.0,249.8 837.9,249.7 C838.9,249.5 839.8,248.7 840.7,248.6 C841.6,248.5 842.6,248.8 843.5,248.9 C844.4,249.0 845.4,249.3 846.3,249.1 C847.2,249.0 848.2,248.4 849.1,248.2 C850.0,248.1 851.0,248.2 851.9,248.3 C852.8,248.4 853.8,248.7 854.7,248.8 C855.6,248.9 856.4,248.7 857.2,248.8 C858.1,248.9 858.9,249.4 859.7,249.4 C860.6,249.4 861.4,248.8 862.2,248.8 C863.1,248.8 863.9,249.2 864.7,249.5 C865.6,249.9 866.4,250.5 867.2,250.8 C868.1,251.1 868.9,251.3 869.8,251.3 C870.6,251.3 871.4,250.9 872.3,250.9 C873.1,250.9 873.9,251.1 874.8,251.2 C875.6,251.2 876.5,251.2 877.3,251.2 C878.1,251.2 879.0,251.4 879.8,251.3 C880.6,251.2 881.5,250.7 882.3,250.6 C883.2,250.4 884.0,250.4 884.8,250.4 C885.7,250.3 886.6,250.1 887.4,250.3 C888.2,250.6 889.0,251.9 889.9,252.1 C890.7,252.3 891.6,251.7 892.4,251.7 C893.2,251.7 894.1,252.4 894.9,252.2 C895.8,252.0 896.6,250.4 897.4,250.3 C898.3,250.3 899.1,251.4 900.0,251.6 C900.8,251.7 901.6,251.3 902.5,251.3 C903.3,251.2 904.2,251.2 905.0,251.3 C905.9,251.4 906.7,251.8 907.6,251.8 C908.5,251.7 909.3,250.9 910.2,250.9 C911.0,251.0 911.9,252.4 912.8,252.3 C913.6,252.2 914.4,250.6 915.3,250.5 C916.2,250.3 917.1,251.2 917.9,251.4 C918.8,251.6 919.6,251.7 920.5,251.8 C921.4,251.9 922.2,252.1 923.1,252.1 C924.0,252.1 924.8,251.8 925.7,251.8 C926.5,251.7 927.4,251.7 928.3,251.7 C929.1,251.7 930.0,251.8 930.8,251.9 C931.7,252.0 932.6,252.3 933.4,252.1 C934.3,252.0 935.1,251.1 936.0,251.0 C936.9,250.9 937.7,251.2 938.6,251.3 C939.5,251.4 940.5,251.6 941.4,251.8 C942.3,252.0 943.3,252.3 944.2,252.4 C945.1,252.5 946.1,252.6 947.0,252.5 C947.9,252.4 948.9,251.7 949.8,251.7 C950.7,251.8 951.7,252.6 952.6,252.6 C953.5,252.7 954.5,252.0 955.4,252.2 C956.3,252.4 957.2,253.5 958.1,253.8 C958.9,254.0 959.9,253.8 960.8,254.0 C961.7,254.2 962.5,254.8 963.4,255.0 C964.3,255.2 965.2,255.1 966.1,255.3 C967.0,255.6 967.9,256.0 968.8,256.4 C969.7,256.8 970.5,257.2 971.3,257.6 C972.2,258.0 973.0,258.5 973.8,258.7 C974.7,258.9 975.6,258.4 976.4,258.7 C977.3,259.0 978.0,260.2 978.9,260.6 C979.8,260.9 980.8,260.7 981.7,260.9 C982.6,261.0 983.6,261.6 984.5,261.6 C985.4,261.5 986.5,260.4 987.3,260.6 C988.3,260.8 988.9,262.7 989.8,263.5 C990.6,264.2 991.5,264.7 992.3,265.3 C993.2,265.8 994.1,266.1 994.9,266.7 C995.8,267.3 996.5,268.0 997.4,269.0 C998.9,270.6 1000.8,272.8 1002.5,275.5 C1004.8,279.3 1007.1,284.2 1009.2,290.0 C1012.2,298.1 1015.4,309.6 1017.4,320.2 C1019.6,331.5 1020.4,343.5 1021.5,355.8 C1022.7,369.0 1023.3,382.2 1024.2,396.9 C1025.2,413.8 1026.1,433.4 1027.0,451.6 C1027.9,469.9 1028.8,488.1 1029.7,506.4 C1030.6,524.6 1031.5,542.9 1032.4,561.1 C1033.3,579.4 1034.2,602.1 1035.2,615.9 C1035.8,624.3 1036.5,636.0 1037.2,636.0 C1037.9,636.0 1038.7,622.3 1039.5,615.0 C1040.3,607.0 1041.3,598.7 1042.0,590.0 C1042.8,580.5 1043.2,571.0 1043.8,560.0 C1044.5,546.4 1044.5,528.4 1045.7,514.4 C1046.8,502.3 1048.5,489.2 1050.2,480.8 C1051.2,475.6 1052.0,470.9 1053.5,468.5 C1054.3,467.2 1055.5,466.0 1056.3,466.2 C1057.7,466.6 1058.8,471.1 1059.7,475.2 C1061.5,483.6 1061.6,501.8 1062.5,514.4 C1063.3,526.0 1064.1,536.9 1064.7,548.0 C1065.3,558.8 1065.7,569.5 1066.2,580.0 C1066.7,590.1 1066.9,599.7 1067.6,609.6 C1068.3,619.7 1069.7,630.2 1070.5,640.0 C1071.2,649.0 1071.5,657.4 1072.2,666.1 C1072.9,674.8 1073.9,683.6 1074.8,692.3 C1075.7,701.0 1076.5,709.7 1077.4,718.4 C1078.3,727.1 1079.0,737.2 1080.0,744.5 C1080.8,749.9 1081.4,758.4 1082.6,758.5 C1083.8,758.6 1085.6,749.4 1087.0,744.5 C1088.5,739.2 1089.9,728.1 1091.4,728.0 C1092.5,727.9 1094.0,732.6 1094.8,735.8 C1096.0,740.4 1096.1,746.8 1096.6,753.2 C1097.3,761.2 1097.9,771.3 1098.3,780.0 C1098.7,788.3 1098.6,795.2 1099.0,804.3 C1099.6,816.2 1100.8,835.1 1101.8,845.3 C1102.4,851.4 1103.2,854.0 1103.8,860.0 C1104.7,869.2 1104.8,883.2 1106.0,895.0 C1107.3,907.3 1109.8,932.3 1111.3,932.3 C1112.7,932.3 1114.0,911.4 1115.0,900.0 C1116.1,887.4 1116.3,873.5 1117.5,860.0 C1118.7,846.2 1121.0,831.9 1122.3,818.0 C1123.5,804.2 1124.0,790.6 1125.0,776.9 C1126.0,763.2 1127.2,749.5 1128.4,735.8 C1129.5,722.1 1130.8,707.9 1131.9,694.8 C1132.9,682.9 1133.7,670.5 1134.6,660.5 C1135.3,652.8 1135.9,648.8 1136.7,640.0 C1138.1,624.2 1139.9,591.0 1141.6,573.5 C1142.7,562.0 1143.8,554.2 1145.0,545.0 C1146.1,536.4 1147.2,527.7 1148.4,520.0 C1149.5,513.3 1150.6,506.9 1151.9,501.4 C1153.0,497.0 1154.3,493.4 1155.5,489.6 C1156.7,486.0 1157.4,481.1 1159.0,479.0 C1160.0,477.7 1161.5,476.5 1162.6,476.6 C1163.8,476.7 1165.3,478.4 1166.1,480.2 C1167.5,483.4 1166.9,489.8 1167.3,495.5 C1167.8,502.7 1168.0,510.3 1168.5,520.0 C1169.3,534.4 1170.4,556.0 1171.5,573.5 C1172.6,590.4 1173.9,623.3 1175.2,623.3 C1176.5,623.3 1178.5,590.4 1179.5,573.5 C1180.5,556.0 1180.2,537.4 1180.9,520.0 C1181.6,503.5 1182.6,486.7 1183.8,471.9 C1184.8,459.2 1185.9,446.2 1187.4,436.4 C1188.4,429.5 1189.7,424.1 1190.9,418.7 C1191.9,414.0 1192.5,408.2 1193.9,405.7 C1194.6,404.4 1195.4,403.3 1196.3,403.3 C1197.5,403.3 1199.4,406.0 1200.4,408.0 C1201.7,410.5 1201.7,415.5 1202.8,417.5 C1203.5,418.7 1204.3,419.1 1205.1,419.9 C1206.0,420.7 1207.3,420.9 1208.1,422.2 C1209.6,424.8 1209.3,431.1 1209.9,436.4 C1210.7,443.3 1211.5,451.7 1212.2,460.0 C1213.0,469.3 1213.6,479.7 1214.3,489.6 C1215.0,499.7 1216.0,508.5 1216.5,520.0 C1217.2,535.2 1217.1,553.8 1217.5,573.0 C1217.9,595.8 1218.2,625.3 1219.0,648.0 C1219.7,666.9 1220.9,682.9 1221.8,700.0 C1222.7,716.7 1223.5,733.8 1224.3,749.5 C1225.0,763.7 1225.0,778.7 1226.5,790.0 C1227.6,798.2 1229.4,804.1 1231.1,811.1 C1232.8,818.0 1234.6,826.5 1236.6,831.7 C1237.9,835.1 1239.5,840.1 1240.7,839.9 C1242.5,839.6 1243.5,825.7 1244.8,818.0 C1246.2,809.4 1247.9,799.8 1248.9,790.6 C1249.9,781.5 1250.3,772.3 1251.0,763.2 C1251.7,754.1 1252.2,744.7 1253.0,735.8 C1253.8,727.4 1254.4,711.3 1255.8,711.2 C1256.7,711.1 1258.3,717.0 1259.2,722.1 C1261.1,732.9 1260.4,755.3 1261.1,774.2 C1261.9,796.9 1262.9,818.7 1263.6,848.9 C1264.7,895.1 1265.0,978.5 1265.8,1024.7 C1266.4,1054.8 1266.8,1074.5 1267.6,1099.4 C1268.4,1124.3 1268.8,1152.3 1270.4,1174.0 C1271.7,1190.9 1273.9,1218.9 1275.5,1218.9 C1277.1,1218.9 1278.7,1190.9 1279.8,1174.0 C1281.2,1152.3 1281.7,1124.3 1282.6,1099.4 C1283.5,1074.5 1284.6,1049.6 1285.4,1024.7 C1286.2,999.8 1286.6,973.5 1287.2,950.0 C1287.7,928.9 1288.3,910.0 1288.8,890.0 C1289.3,870.0 1289.6,849.2 1290.3,830.0 C1291.0,812.1 1291.8,793.8 1292.8,778.4 C1293.6,766.0 1294.5,756.0 1295.4,744.8 C1296.2,733.6 1296.5,718.6 1297.9,711.2 C1298.6,707.4 1299.6,702.8 1300.4,702.8 C1301.2,702.8 1302.2,707.9 1302.9,711.2 C1303.9,715.8 1304.6,721.6 1305.4,728.0 C1306.5,736.6 1307.6,758.2 1308.8,758.2 C1309.9,758.2 1311.3,744.5 1312.2,736.4 C1313.3,726.4 1314.0,714.0 1314.7,702.8 C1315.4,691.6 1315.9,681.0 1316.4,669.2 C1317.0,656.0 1317.3,640.4 1318.0,627.2 C1318.6,615.4 1319.5,604.8 1320.3,593.6 C1321.0,582.4 1321.7,571.6 1322.5,560.0 C1323.3,547.7 1323.6,532.9 1325.1,521.9 C1326.2,513.4 1328.2,507.0 1329.6,499.5 C1331.0,492.0 1332.0,483.9 1333.4,477.1 C1334.6,471.4 1335.9,461.5 1337.4,461.4 C1338.7,461.3 1340.4,468.0 1341.6,472.6 C1343.4,479.6 1344.1,490.9 1345.3,499.5 C1346.4,507.3 1346.7,516.5 1348.3,521.9 C1349.3,525.2 1350.8,529.4 1352.0,529.4 C1353.3,529.4 1354.6,523.3 1355.8,520.4 C1356.9,517.8 1357.8,513.0 1358.8,513.0 C1359.8,513.0 1361.0,518.0 1361.8,521.9 C1363.2,528.9 1363.2,541.3 1364.0,551.8 C1364.9,563.5 1366.1,577.2 1367.0,589.1 C1367.8,599.9 1368.6,606.6 1369.2,620.0 C1370.3,644.5 1369.6,696.0 1370.9,724.4 C1371.8,744.1 1373.2,758.8 1374.7,774.2 C1376.0,787.5 1377.6,811.5 1379.1,811.5 C1380.5,811.5 1382.3,788.8 1383.4,774.2 C1384.9,753.6 1385.0,724.9 1385.9,699.6 C1386.8,673.5 1387.8,646.2 1388.6,620.0 C1389.4,594.5 1389.7,566.2 1390.9,544.3 C1391.9,527.4 1393.0,511.8 1394.6,499.5 C1395.7,490.7 1396.9,485.1 1398.4,477.1 C1400.1,467.8 1402.1,457.1 1404.3,447.2 C1406.5,437.2 1409.4,427.8 1411.8,417.3 C1414.4,405.6 1416.7,388.5 1419.3,380.0 C1420.7,375.3 1421.5,373.6 1423.6,369.5 C1426.9,363.1 1434.5,345.9 1438.5,345.8 C1440.9,345.7 1442.8,350.7 1444.7,354.5 C1447.5,360.1 1450.1,369.4 1452.2,376.9 C1454.3,384.3 1455.7,391.2 1457.2,399.3 C1459.0,408.8 1460.5,430.4 1462.1,430.4 C1463.8,430.4 1465.3,409.8 1467.1,399.3 C1469.0,388.6 1471.0,374.3 1473.3,367.0 C1474.5,363.1 1475.6,358.4 1477.1,358.3 C1478.5,358.2 1479.7,364.7 1482.0,365.7 C1484.3,366.7 1488.7,363.3 1490.8,364.5 C1493.1,365.9 1493.5,369.6 1494.5,374.4 C1497.0,386.1 1496.9,416.2 1498.2,436.7 C1499.4,456.8 1500.7,496.4 1502.0,496.4 C1503.2,496.4 1504.1,465.1 1505.7,449.1 C1507.4,432.7 1508.2,411.4 1511.9,399.3 C1514.2,391.8 1517.3,387.1 1520.6,381.9 C1523.6,377.2 1528.1,369.1 1530.6,369.5 C1532.9,369.8 1534.1,378.0 1535.6,381.9 C1537.0,385.4 1537.3,389.8 1539.3,391.9 C1540.9,393.5 1543.8,392.4 1545.5,394.4 C1549.0,398.5 1549.5,421.6 1551.7,421.7 C1553.7,421.8 1556.1,407.8 1558.0,399.3 C1560.4,388.5 1560.8,370.6 1564.2,362.0 C1566.2,356.9 1569.1,351.5 1571.6,350.8 C1573.2,350.4 1575.2,353.8 1576.6,353.3 C1578.8,352.5 1579.3,344.2 1581.6,340.8 C1583.6,337.8 1586.2,335.3 1589.1,333.4 C1592.0,331.4 1596.0,328.9 1599.0,329.1 C1601.7,329.3 1604.4,331.1 1606.5,333.4 C1609.3,336.4 1611.1,341.6 1612.7,347.1 C1614.8,354.5 1615.3,364.1 1616.4,374.4 C1617.9,387.7 1618.8,420.5 1620.2,420.5 C1621.7,420.5 1622.7,386.9 1625.1,374.4 C1626.8,365.5 1628.3,358.1 1631.4,352.0 C1634.0,346.9 1637.9,339.8 1641.3,339.6 C1644.5,339.4 1648.6,345.2 1651.3,349.6 C1654.8,355.3 1656.3,364.3 1658.7,372.0 C1661.2,380.0 1661.9,393.2 1666.2,396.8 C1668.9,399.0 1673.2,396.3 1676.2,398.1 C1680.1,400.4 1683.2,412.0 1686.1,411.8 C1689.0,411.6 1691.1,401.7 1693.6,396.8 C1696.0,392.1 1698.1,385.8 1701.0,383.2 C1702.9,381.5 1705.7,380.1 1707.3,380.7 C1709.1,381.3 1710.0,384.8 1711.0,387.6 C1712.4,391.4 1712.4,397.6 1713.9,401.6 C1715.2,405.0 1717.6,407.0 1718.9,410.5 C1720.5,414.7 1721.1,418.9 1721.9,425.4 C1723.5,437.7 1724.0,459.5 1724.9,479.2 C1726.0,503.2 1727.0,534.1 1727.9,558.9 C1728.7,580.6 1729.3,596.1 1729.9,620.0 C1730.7,653.9 1731.0,743.1 1731.8,743.1 C1732.6,743.1 1734.0,662.4 1734.8,620.0 C1735.7,574.6 1734.5,511.2 1736.8,479.2 C1738.0,462.6 1740.3,441.4 1741.8,441.4 C1743.3,441.4 1744.6,464.7 1745.8,479.2 C1747.4,498.9 1748.2,528.6 1749.8,548.9 C1751.0,564.6 1752.5,590.7 1753.8,590.7 C1755.2,590.7 1756.5,557.5 1757.7,539.0 C1759.1,517.5 1759.4,487.0 1761.7,469.3 C1763.2,458.2 1765.4,442.4 1767.3,442.4 C1768.8,442.4 1770.6,451.9 1771.7,459.3 C1773.8,473.0 1773.9,496.5 1774.7,519.0 C1775.7,548.3 1776.1,586.4 1776.7,620.0 C1777.3,653.4 1777.9,685.1 1778.5,720.0 C1779.1,758.2 1779.4,799.6 1780.3,840.0 C1781.2,881.1 1782.7,964.6 1784.1,964.6 C1785.2,964.6 1787.0,909.1 1787.8,880.0 C1788.7,849.0 1788.4,814.9 1789.1,784.0 C1789.7,755.1 1790.8,727.7 1791.5,700.0 C1792.1,673.0 1792.2,644.9 1793.0,620.0 C1793.7,598.3 1794.1,575.6 1795.6,558.9 C1796.6,547.1 1798.3,540.2 1799.6,529.0 C1801.3,514.5 1801.6,490.5 1804.5,479.2 C1806.1,473.0 1808.1,469.5 1810.5,465.3 C1812.8,461.3 1816.0,454.5 1818.5,454.3 C1820.3,454.2 1822.0,456.9 1823.5,459.3 C1825.8,462.9 1827.5,469.7 1829.4,475.2 C1831.4,481.0 1833.2,488.5 1835.4,493.2 C1837.0,496.5 1838.6,501.0 1840.4,501.1 C1842.3,501.2 1844.5,495.1 1846.4,493.2 C1847.7,491.8 1849.2,489.9 1850.3,490.2 C1852.0,490.7 1853.2,496.3 1854.3,501.1 C1856.2,509.8 1856.5,526.2 1857.3,539.0 C1858.1,552.1 1858.6,565.7 1859.3,578.8 C1860.0,591.6 1860.9,616.6 1861.7,616.6 C1862.5,616.6 1862.9,587.8 1864.3,578.8 C1865.1,573.6 1865.2,568.2 1867.3,566.8 C1868.7,565.9 1871.4,567.1 1873.2,567.8 C1875.0,568.5 1876.9,568.9 1878.2,570.8 C1880.4,574.1 1880.4,582.9 1881.2,588.7 C1882.0,594.2 1882.5,597.8 1883.2,604.8 C1884.5,617.8 1886.0,644.5 1887.7,660.8 C1889.0,673.4 1890.1,683.6 1892.1,694.4 C1893.9,704.5 1896.6,715.2 1898.9,723.5 C1900.7,729.8 1902.0,735.8 1904.4,740.0 C1906.1,743.0 1908.9,744.1 1910.5,747.0 C1912.6,750.7 1913.7,755.5 1914.8,760.9 C1916.3,768.2 1916.7,778.4 1917.4,787.1 C1918.1,795.8 1918.6,803.4 1919.2,813.2 C1920.0,825.9 1920.8,842.2 1921.8,856.7 C1922.8,871.2 1923.9,886.5 1925.3,900.2 C1926.6,912.5 1928.2,924.7 1929.6,935.1 C1930.8,943.5 1931.9,957.7 1933.1,957.7 C1934.3,957.7 1935.8,945.1 1936.8,937.0 C1938.2,925.5 1938.7,908.6 1939.6,895.0 C1940.5,882.3 1941.2,868.9 1942.2,858.0 C1943.0,849.4 1943.8,842.4 1944.8,835.0 C1945.7,828.1 1946.3,819.8 1947.9,814.9 C1948.9,811.9 1949.7,808.9 1951.4,808.0 C1952.8,807.3 1955.0,807.9 1956.6,808.8 C1958.6,810.0 1959.8,815.0 1961.8,815.8 C1963.4,816.4 1965.4,815.5 1967.1,814.9 C1968.9,814.3 1970.9,811.8 1972.3,812.3 C1974.2,813.0 1975.3,818.6 1976.6,821.9 C1977.9,825.3 1978.8,832.3 1980.1,832.3 C1981.4,832.4 1983.2,825.9 1984.5,821.9 C1986.2,816.9 1987.6,809.8 1988.8,804.5 C1989.8,800.1 1990.3,796.2 1991.4,792.3 C1992.4,788.6 1993.8,785.8 1994.9,781.8 C1996.2,776.8 1997.4,769.9 1998.4,764.4 C1999.3,759.5 1999.5,754.3 2000.6,750.5 C2001.4,747.7 2002.6,745.8 2003.6,743.5 C2004.6,741.2 2005.8,739.0 2006.5,736.6 C2007.2,734.2 2008.0,729.0 2008.0,729.0"/>
<text transform="translate(179.60,237.39) scale(0.7872,0.8124)" font-size="100">100</text>
<text transform="translate(218.99,593.40) scale(0.7828,0.8035)" font-size="100">80</text>
<text transform="translate(219.30,950.39) scale(0.7796,0.8080)" font-size="100">60</text>
<text transform="translate(219.67,1306.20) scale(0.7758,0.7990)" font-size="100">40</text>
<text transform="translate(259.14,1387.40) scale(0.7755,0.8020)" font-size="100">2500</text>
<text transform="translate(676.72,1387.79) scale(0.7797,0.8124)" font-size="100">2000</text>
<text transform="translate(1095.49,1387.40) scale(0.7768,0.8020)" font-size="100">1500</text>
<text transform="translate(1512.37,1387.40) scale(0.7790,0.8020)" font-size="100">1000</text>
<text transform="translate(1948.88,1388.18) scale(0.7799,0.8243)" font-size="100">500</text>
<text transform="translate(779.38,1557.91) scale(0.9929,0.9679)" font-size="100">Wavelength</text>
<text transform="translate(1349.86,1557.78) scale(0.9742,1.0208)" font-size="100">cm</text>
<text transform="translate(1471.85,1503.00) scale(0.5866,0.6303)" font-size="100">-1</text>
<text class="cjk" transform="translate(1246.99,1556.87) scale(1.0650,1.0638)" font-size="100">（</text>
<text class="cjk" transform="translate(1520.73,1557.05) scale(1.0448,1.0670)" font-size="100">）</text>
<text transform="translate(569.95,1017.72) scale(0.5490,0.5868)" font-size="100">Cu-MOF</text>
<text transform="translate(571.59,1093.24) scale(0.5455,0.5720)" font-size="100">FPBA-Cu-MOF</text>
<text transform="translate(978.45,685.10) scale(0.3811,0.3951)" font-size="100">1664</text>
<text transform="translate(1069.83,970.31) scale(0.3834,0.3896)" font-size="100">1575</text>
<text transform="translate(1236.32,1255.60) scale(0.3844,0.4025)" font-size="100">1379</text>
<text transform="translate(1338.44,848.21) scale(0.3827,0.3921)" font-size="100">1253</text>
<text transform="translate(1565.36,520.32) scale(0.3800,0.3847)" font-size="100">1043</text>
<text transform="translate(1702.44,774.61) scale(0.3787,0.3876)" font-size="100">832</text>
<text transform="translate(1753.88,1003.21) scale(0.3915,0.3921)" font-size="100">767</text>
<text transform="translate(88.4,854.4) rotate(-90) scale(1.0266,0.979)" font-size="100">Intensity</text>
<path d="M420,997 H558" stroke="#000" stroke-width="5.0" stroke-linecap="round"/>
<path d="M420,1072.3 H558" stroke="#f00" stroke-width="5.0" stroke-linecap="round"/>
<path d="M1594.7,487.8 L1572,451" stroke="#000" stroke-width="3.2" stroke-linecap="round"/>
<path d="M1556.4,423.3 L1566,457 L1582,448 Z" fill="#000" stroke="#000" stroke-width="0.8" stroke-linejoin="round"/>
</svg></body></html>
